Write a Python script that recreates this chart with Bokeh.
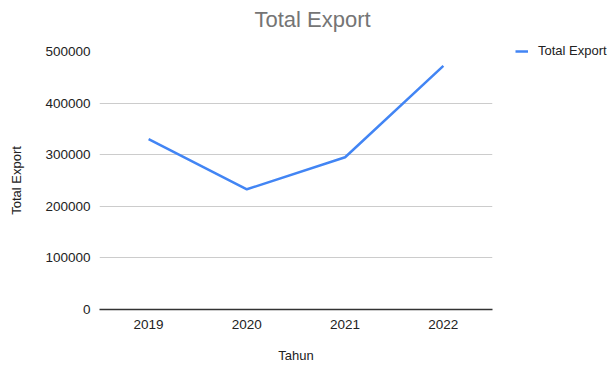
from bokeh.plotting import figure
from bokeh.models import FactorRange, Range1d, FixedTicker, NumeralTickFormatter, Legend, LegendItem
from bokeh.embed import file_html
from bokeh.resources import INLINE

years = ["2019", "2020", "2021", "2022"]
total_export = [330000, 233000, 295000, 472000]
y_ticks = [0, 100000, 200000, 300000, 400000, 500000]

FONT = "Liberation Sans"

p = figure(frame_width=393, frame_height=258, output_backend="svg", toolbar_location=None,
           x_range=FactorRange(*years, range_padding=0), y_range=Range1d(0, 500000),
           min_border_left=0, min_border_right=0, min_border_top=0, min_border_bottom=0,
           margin=(-16, 0, 0, 6))

p.outline_line_color = None
p.background_fill_color = "white"
p.border_fill_color = "white"

r = p.line(x=years, y=total_export, line_color="#4285F4", line_width=2.5)

p.title.text = "Total Export"
p.title.text_font = FONT
p.title.text_font_size = "22px"
p.title.text_font_style = "normal"
p.title.text_color = "#757575"
p.title.align = "left"
p.title.offset = 155
p.title.standoff = 40

# y axis
p.yaxis.ticker = FixedTicker(ticks=y_ticks)
p.yaxis.formatter = NumeralTickFormatter(format="0")
p.yaxis.axis_line_color = None
p.yaxis.major_tick_line_color = None
p.yaxis.minor_tick_line_color = None
p.yaxis.major_tick_out = 0
p.yaxis.major_tick_in = 0
p.yaxis.major_label_standoff = 9
p.yaxis.major_label_text_font = FONT
p.yaxis.major_label_text_font_size = "13.5px"
p.yaxis.major_label_text_color = "#222222"
p.yaxis.axis_label = "Total Export"
p.yaxis.axis_label_text_font = FONT
p.yaxis.axis_label_text_font_size = "13px"
p.yaxis.axis_label_text_font_style = "normal"
p.yaxis.axis_label_text_color = "#222222"
p.yaxis.axis_label_standoff = 18

# x axis
p.xaxis.axis_line_color = "#333333"
p.xaxis.axis_line_width = 1.5
p.xaxis.major_tick_line_color = None
p.xaxis.minor_tick_line_color = None
p.xaxis.major_tick_out = 0
p.xaxis.major_tick_in = 0
p.xaxis.major_label_standoff = 10
p.xaxis.major_label_text_font = FONT
p.xaxis.major_label_text_font_size = "13.5px"
p.xaxis.major_label_text_color = "#222222"
p.xaxis.axis_label = "Tahun"
p.xaxis.axis_label_text_font = FONT
p.xaxis.axis_label_text_font_size = "13px"
p.xaxis.axis_label_text_font_style = "normal"
p.xaxis.axis_label_text_color = "#222222"
p.xaxis.axis_label_standoff = 16

p.xgrid.grid_line_color = None
p.ygrid.grid_line_color = "#cccccc"
p.ygrid.grid_line_width = 1

legend = Legend(items=[LegendItem(label="Total Export", renderers=[r])],
                location=(23, 251), border_line_color=None, background_fill_alpha=0,
                glyph_width=13, glyph_height=12, label_text_font=FONT,
                label_text_font_size="13px", label_text_color="#222222",
                padding=0, margin=0, label_standoff=10)
p.add_layout(legend, "right")

open("out.html", "w").write(file_html(p, INLINE))
